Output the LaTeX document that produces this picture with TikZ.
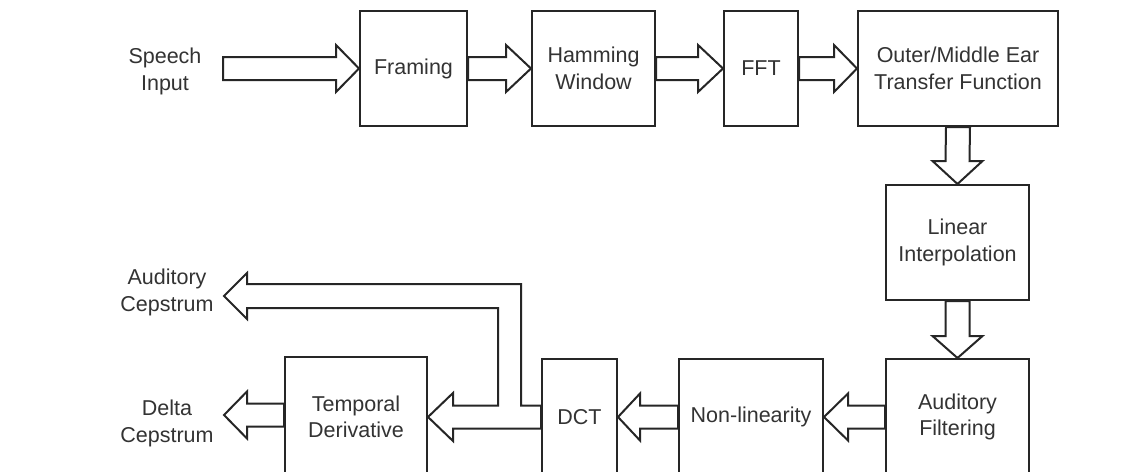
\documentclass[tikz,border=0pt]{standalone}
\usepackage{fontspec}
\setmainfont{Liberation Sans}
\usetikzlibrary{calc}
\definecolor{linec}{gray}{0.15}
\definecolor{textc}{gray}{0.2}
\newcommand{\blkR}[3]{\draw[blk] ($(#1)+(0,-11.5)$) -- ($(#2)+(-#3,-11.5)$) -- ($(#2)+(-#3,-23.5)$) -- (#2) -- ($(#2)+(-#3,23.5)$) -- ($(#2)+(-#3,11.5)$) -- ($(#1)+(0,11.5)$) -- cycle;}
\newcommand{\blkL}[3]{\draw[blk] ($(#1)+(0,-11.5)$) -- ($(#2)+(#3,-11.5)$) -- ($(#2)+(#3,-23.5)$) -- (#2) -- ($(#2)+(#3,23.5)$) -- ($(#2)+(#3,11.5)$) -- ($(#1)+(0,11.5)$) -- cycle;}
\newcommand{\blkD}[3]{\draw[blk] ($(#1)+(-12,0)$) -- ($(#2)+(-12,-#3)$) -- ($(#2)+(-25,-#3)$) -- (#2) -- ($(#2)+(25,-#3)$) -- ($(#2)+(12,-#3)$) -- ($(#1)+(12,0)$) -- cycle;}
\begin{document}
\begin{tikzpicture}[x=1pt,y=-1pt,
  box/.style={draw=linec, line width=2pt, fill=white, align=center, inner sep=0pt, text=textc, font=\fontsize{21.5}{26.5}\selectfont},
  blk/.style={draw=linec, line width=2pt, line join=miter, fill=white},
  lbl/.style={align=center, inner sep=0pt, text=textc, font=\fontsize{21.5}{27}\selectfont}]
\useasboundingbox (0,0) rectangle (1140,471);
\clip (0,0) rectangle (1140,471);
\fill[white] (0,0) rectangle (1140,471);
% boxes
\node[box, minimum width=107pt, minimum height=115pt] (framing) at (413.5,68.5) {Framing};
\node[box, minimum width=123pt, minimum height=115pt] (hamming) at (593.5,68.5) {Hamming\\Window};
\node[box, minimum width=74pt, minimum height=115pt] (fft) at (761,68.5) {FFT};
\node[box, minimum width=200pt, minimum height=115pt] (outer) at (958,68.5) {Outer/Middle Ear\\Transfer Function};
\node[box, minimum width=143pt, minimum height=115pt] (linear) at (957.5,242.5) {Linear\\Interpolation};
\node[box, minimum width=143pt, minimum height=116pt] (audfilt) at (957.5,417) {Auditory\\Filtering};
\node[box, minimum width=144pt, minimum height=116pt] (nonlin) at (751,417) {Non-linearity};
\node[box, minimum width=75pt, minimum height=116pt] (dct) at (579.5,417) {DCT};
\node[box, minimum width=142pt, minimum height=120pt] (temporal) at (356,417) {Temporal\\Derivative};
% labels
\node[lbl] (speech) at (165,71) {Speech\\Input};
\node[lbl] (acl) at (167,292) {Auditory\\Cepstrum};
\node[lbl] (dcl) at (167,423) {Delta\\Cepstrum};
% free ends
\coordinate (sin) at (223,68.5);
\coordinate (acep) at (224,296);
\coordinate (dcep) at (224,415);
\coordinate (dstart) at (temporal.west |- dcep);
\coordinate (bo1) at (521,405.5);
\coordinate (bo2) at (521,284);
\coordinate (bi1) at (498,308);
\coordinate (bi2) at (498,405.5);
% top row arrows
\blkR{sin}{framing.west}{23}
\blkR{framing.east}{hamming.west}{25}
\blkR{hamming.east}{fft.west}{25}
\blkR{fft.east}{outer.west}{23}
% vertical arrows
\blkD{outer.south}{linear.north}{23}
\blkD{linear.south}{audfilt.north}{22}
% bottom row arrows
\blkL{audfilt.west}{nonlin.east}{24}
\blkL{nonlin.west}{dct.east}{22}
% DCT outputs (to temporal derivative and auditory cepstrum)
\draw[blk] ($(dct.west)+(0,-11.5)$) -- (bo1) -- (bo2) -- ($(acep)+(23,-12)$) -- ($(acep)+(23,-23)$) -- (acep) -- ($(acep)+(23,23)$) -- ($(acep)+(23,12)$) -- (bi1) -- (bi2) -- ($(temporal.east)+(25,-11.5)$) -- ($(temporal.east)+(25,-24)$) -- (temporal.east) -- ($(temporal.east)+(25,24)$) -- ($(temporal.east)+(25,11.5)$) -- ($(dct.west)+(0,11.5)$) -- cycle;
% delta cepstrum
\blkL{dstart}{dcep}{23}
\end{tikzpicture}
\end{document}
